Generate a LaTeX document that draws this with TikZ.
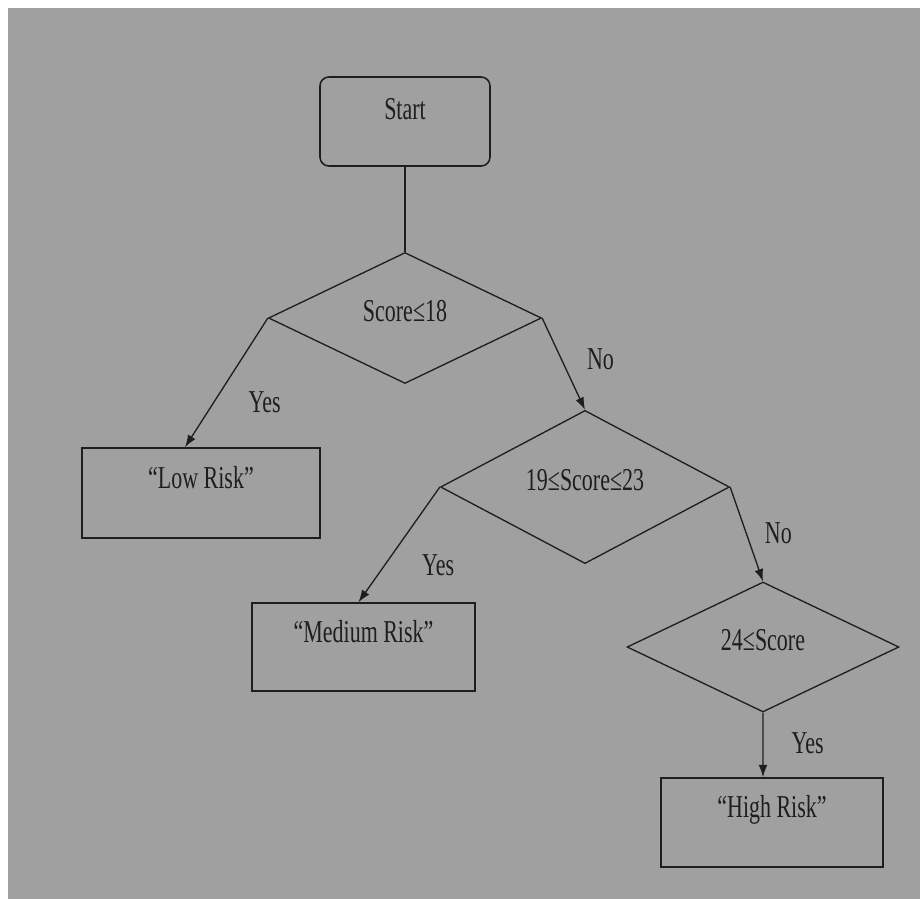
\documentclass[tikz,border=0pt]{standalone}
\usepackage{fontspec}
\setmainfont{Liberation Serif}
\usepackage{graphicx}
\usetikzlibrary{arrows.meta, positioning, shapes.geometric}
\definecolor{paper}{HTML}{A0A0A0}
\definecolor{ink}{HTML}{1E1E1E}
\newcommand{\Tall}[1]{\scalebox{1}[1.45]{#1}}
\tikzset{
    every node/.append style={font=\fontsize{12.5}{15}\selectfont},
    begin/.style={draw, rectangle, rounded corners=5pt, line width=0.9pt, minimum width=3.4cm, minimum height=1.78cm, text depth=14pt},
    test/.style={draw, diamond, inner sep=0pt, text depth=8pt},
    risk/.style={draw, rectangle, line width=0.9pt, text depth=18pt},
    answer/.style={inner sep=0pt},
}

\begin{document}
\begin{tikzpicture}[x=0.02cm, y=-0.02cm, color=ink, line width=0.75pt, >={Latex[length=7pt, width=5pt]}]
    \useasboundingbox (0,0) rectangle (920,899);
    \fill[paper] (8,8) rectangle (920,899);

    \node[begin] (start) at (405,121.5) {\Tall{Start}};
    \node[test, minimum width=5.46cm, minimum height=2.62cm] (t18) at (405,318) {\Tall{Score≤18}};
    \node[test, minimum width=5.78cm, minimum height=2.34cm] (t23) at (585,487) {\Tall{19≤Score≤23}};
    \node[test, minimum width=5.44cm, minimum height=2.6cm] (t24) at (763,647) {\Tall{24≤Score}};
    \node[risk, minimum width=4.76cm, minimum height=1.8cm] (low) at (201,493) {\Tall{“Low Risk”}};
    \node[risk, minimum width=4.46cm, minimum height=1.76cm] (medium) at (363.5,647) {\Tall{“Medium Risk”}};
    \node[risk, minimum width=4.44cm, minimum height=1.78cm] (high) at (772,822.5) {\Tall{“High Risk”}};

    \draw (start) -- (t18);
    \draw (t18.west) edge[->] node[answer, pos=0.65, right=0.68cm] (yes18) {\Tall{Yes}} ([xshift=-0.32cm]low.north);
    \draw (t18.east) edge[->] node[answer, pos=0.45, right=0.5cm] (no18) {\Tall{No}} (t23.north);
    \draw (t23.west) edge[->] node[answer, pos=0.68, right=0.74cm] (yes23) {\Tall{Yes}} ([xshift=-0.1cm]medium.north);
    \draw (t23.east) edge[->] node[answer, pos=0.49, right=0.36cm] (no23) {\Tall{No}} (t24.north);
    \draw (t24.south) edge[->] node[answer, pos=0.47, right=0.56cm] (yes24) {\Tall{Yes}} ([xshift=-0.18cm]high.north);
\end{tikzpicture}
\end{document}
